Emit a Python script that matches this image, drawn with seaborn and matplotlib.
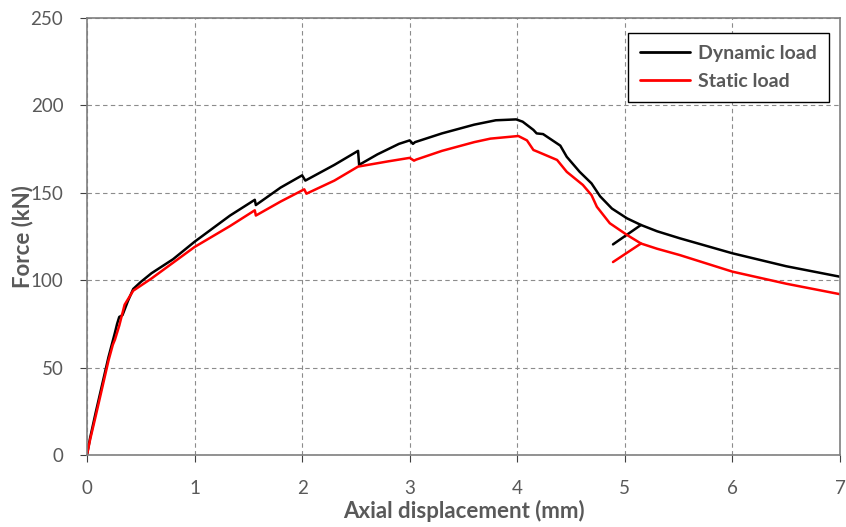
import pandas as pd
import numpy as np
import seaborn as sns
import matplotlib.pyplot as plt

# Dynamic load curve (main branch)
dyn_x = [0, 0.03, 0.08, 0.14, 0.2, 0.26, 0.28, 0.3, 0.33, 0.38, 0.43, 0.5, 0.6, 0.8, 1.0, 1.33,
         1.56, 1.57, 1.8, 2.0, 2.03, 2.3, 2.52, 2.53, 2.7, 2.9, 3.0, 3.03, 3.05, 3.3, 3.6, 3.8, 3.99,
         4.05, 4.15, 4.18, 4.24, 4.4, 4.46, 4.58, 4.69, 4.77, 4.88, 5.02, 5.15, 5.3, 5.51, 6.0, 6.5, 7.0]
dyn_y = [0, 10, 24, 40, 56, 70, 75, 79, 80, 88, 95, 99, 104, 112, 122, 137,
         146, 143, 153, 160, 157, 166, 174, 166, 172, 178, 180, 178, 179, 184, 189, 191.5, 192,
         190.7, 186, 184, 183.6, 177, 170.6, 162, 155.4, 148, 141, 135.4, 131.6, 128, 124, 115.4, 108, 102]
# Dynamic reload branch
dyn_rx = [4.89, 5.15]
dyn_ry = [120.5, 131.6]

# Static load curve (main branch)
sta_x = [0, 0.03, 0.08, 0.14, 0.2, 0.24, 0.26, 0.28, 0.3, 0.35, 0.43, 0.6, 0.8, 1.0, 1.33,
         1.56, 1.57, 1.8, 2.02, 2.04, 2.3, 2.52, 2.8, 3.0, 3.04, 3.06, 3.3, 3.6, 3.75, 4.01,
         4.09, 4.15, 4.19, 4.37, 4.46, 4.61, 4.69, 4.74, 4.86, 5.02, 5.15, 5.3, 5.51, 6.0, 6.5, 7.0]
sta_y = [0, 9, 22, 38, 54, 63, 66, 70, 74, 86, 94, 101, 110, 119, 131,
         140, 137, 145, 152, 149.5, 157, 165, 168, 170, 168.4, 169, 174, 179, 181, 182.5,
         180, 174.5, 173.5, 168.8, 162, 154.5, 148.7, 142, 132.6, 125.9, 121, 118, 114.4, 104.9, 98, 92]
# Static reload branch
sta_rx = [4.89, 5.15]
sta_ry = [110.4, 121]

frames = [
    pd.DataFrame({'x': dyn_x, 'force': dyn_y, 'series': 'Dynamic load', 'seg': 'd1'}),
    pd.DataFrame({'x': dyn_rx, 'force': dyn_ry, 'series': 'Dynamic load', 'seg': 'd2'}),
    pd.DataFrame({'x': sta_x, 'force': sta_y, 'series': 'Static load', 'seg': 's1'}),
    pd.DataFrame({'x': sta_rx, 'force': sta_ry, 'series': 'Static load', 'seg': 's2'}),
]
df = pd.concat(frames, ignore_index=True)

sns.set_style("white")
plt.rcParams['font.family'] = ['Lato', 'DejaVu Sans']
grey = '#595959'

fig = plt.figure(figsize=(8.46, 5.27), dpi=100)
ax = fig.add_axes([0.1028, 0.1366, 0.8901, 0.8292])

sns.lineplot(data=df, x='x', y='force', hue='series', units='seg', estimator=None, sort=False,
             palette={'Dynamic load': 'black', 'Static load': 'red'}, linewidth=1.8, ax=ax)

ax.set_xlim(0, 7)
ax.set_ylim(0, 250)
ax.set_xticks(range(0, 8))
ax.set_yticks(range(0, 251, 50))
ax.grid(True, linestyle=(0, (4, 3)), color='#8c8c8c', linewidth=0.8)
for s in ax.spines.values():
    s.set_visible(True)
    s.set_color('#7f7f7f')
    s.set_linewidth(1.2)
ax.tick_params(axis='both', colors=grey, labelsize=13.5, length=5, direction='out',
               bottom=True, left=True)
ax.tick_params(axis='x', pad=13)
ax.tick_params(axis='y', pad=12)
ax.tick_params(axis='both', color='#404040')

ax.set_xlabel('Axial displacement (mm)', fontsize=16, fontweight='bold', color=grey, labelpad=2)
ax.set_ylabel('Force (kN)', fontsize=16, fontweight='bold', color=grey, labelpad=-2)

leg = ax.legend(loc='upper right', bbox_to_anchor=(0.985, 0.966), borderaxespad=0,
                frameon=True, fancybox=False, edgecolor='black', fontsize=14,
                handlelength=2.6, borderpad=0.6, labelspacing=0.6, handletextpad=0.4)
leg.get_frame().set_linewidth(1.0)
leg.get_frame().set_facecolor('white')
leg.get_frame().set_alpha(1)
for t in leg.get_texts():
    t.set_color(grey)
    t.set_fontweight('bold')
for h in leg.get_lines():
    h.set_linewidth(2)

fig.savefig('out.png', dpi=100)
